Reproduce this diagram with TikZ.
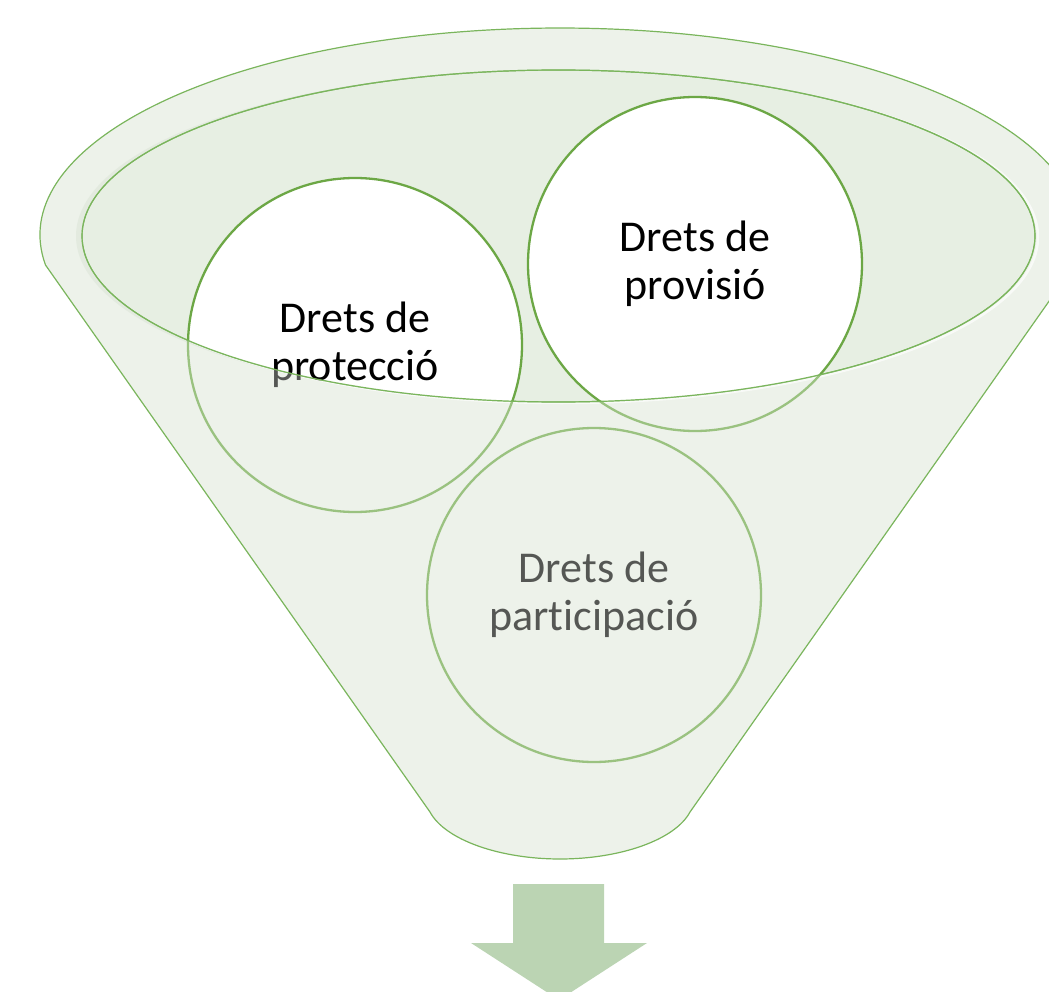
\documentclass[tikz,border=0pt]{standalone}
\usepackage{fontspec}
\setmainfont{Carlito}[Ligatures=NoCommon]
\definecolor{rimfill}{HTML}{EDF2EA}
\definecolor{innerfill}{HTML}{E7EFE3}
\definecolor{shadowfill}{HTML}{DEE7DA}
\definecolor{funline}{HTML}{7AB55C}
\definecolor{circline}{HTML}{6CA745}
\definecolor{arrowc}{HTML}{BBD4B3}
\tikzset{
  funnelpath/.style={insert path={(45.5,265) arc[start angle=171.67,end angle=368.33,x radius=520,y radius=207]
     -- (690,812) .. controls (675,840) and (620,859) .. (560,859) .. controls (500,859) and (445,840) .. (430,812) -- cycle}},
  innerpath/.style={insert path={(558.5,236) ellipse[x radius=476.5,y radius=166]}},
  circnode/.style={circle, draw=circline, line width=2.3pt, minimum size=334pt, inner sep=0pt,
     align=center, text=black, font={\fontsize{44}{48}\selectfont}},
}
\begin{document}
\begin{tikzpicture}[x=1pt,y=-1pt]
\useasboundingbox (0,0) rectangle (1049,992);
\clip (0,0) rectangle (1049,992);
% back of funnel
\fill[rimfill, funnelpath];
% shadow and highlight of the inner rim
\fill[shadowfill] (552.5,236) ellipse[x radius=476.5,y radius=166];
\draw[white, line width=2.5pt] (561.5,237) ellipse[x radius=476.5,y radius=166];
\fill[innerfill, innerpath];
\draw[funline, line width=1.2pt, innerpath];
% white interior of the circles inside the rim
\begin{scope}
  \clip[innerpath];
  \fill[white] (355,344) circle[radius=167];
  \fill[white] (695,263) circle[radius=167];
  \fill[white] (594,594) circle[radius=167];
\end{scope}
% circles
\node[circnode] (prot) at (355,345) {Drets de\\protecció};
\node[circnode] (prov) at (695,264) {Drets de\\provisió};
\node[circnode] (part) at (594,595) {Drets de\\participació};
% translucent front of funnel
\fill[rimfill, opacity=0.36, even odd rule, funnelpath, innerpath];
% outlines on top
\draw[funline, line width=1.2pt, funnelpath];
\draw[funline, line width=1.2pt, innerpath];
% arrow
\fill[arrowc] (513,884) -- (604,884) -- (604,943) -- (647,943) -- (559,1000) -- (471,943) -- (513,943) -- cycle;
\end{tikzpicture}
\end{document}
